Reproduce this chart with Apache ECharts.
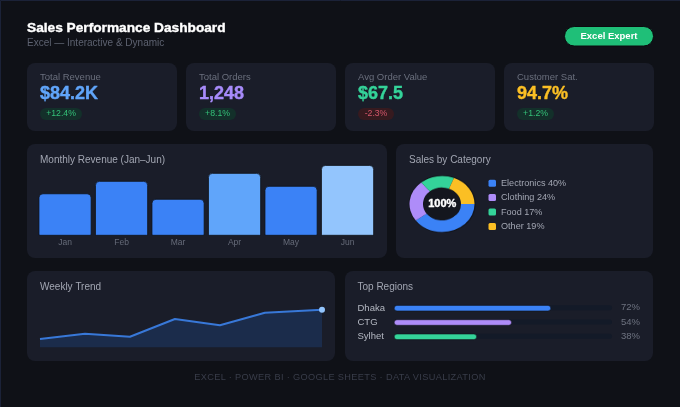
<!DOCTYPE html>
<html>
<head>
<meta charset="utf-8">
<title>Sales Performance Dashboard</title>
<script src="https://cdn.jsdelivr.net/npm/echarts@6/dist/echarts.min.js"></script>
<style>
  html, body { margin: 0; padding: 0; background: #0f1117; }
  #wrap { position: relative; width: 680px; height: 407px; overflow: hidden; }
  #main { position: absolute; left: 0; top: 0; width: 680px; height: 407px; }
  /* the ring in the reference is flattened, a pie can't do that by itself */
  #donut { position: absolute; left: 407.3px; top: 169px; width: 70px; height: 70px; transform: scaleY(0.862); }
  #foot { position: absolute; left: 0; width: 680px; top: 371px; text-align: center; font: 9.2px/12px "Liberation Sans"; letter-spacing: 0.35px; color: #393d4a; }
</style>
</head>
<body>
<div id="wrap">
  <div id="main"></div>
  <div id="donut"></div>
  <div id="foot">EXCEL · POWER BI · GOOGLE SHEETS · DATA VISUALIZATION</div>
</div>
<script>
var FONT = '"Liberation Sans", Arial, sans-serif';

// monthly revenue
var months = ['Jan', 'Feb', 'Mar', 'Apr', 'May', 'Jun'];
var monthlyRevenue = [42.5, 55, 37, 63, 50, 71];
var monthlyColors = ['#3b82f6', '#3b82f6', '#3b82f6', '#60a5fa', '#3b82f6', '#93c5fd'];

// sales by category
var categories = ['Electronics', 'Clothing', 'Food', 'Other'];
var categoryShare = [40, 24, 17, 19];
var categoryColors = ['#3b82f6', '#ae8cf9', '#34d399', '#fbbf24'];

// weekly trend
var weeks = [1, 2, 3, 4, 5, 6, 7.27];
var weeklyValues = [8.3, 13.6, 10.6, 28.3, 22, 34.6, 37.6];

// top regions
var regions = ['Dhaka', 'CTG', 'Sylhet'];
var regionShare = [72, 54, 38];
var regionColors = ['#3b82f6', '#ae8cf9', '#34d399'];
var regionTrack = [100, 100, 100];

// kpi cards
var kpiLabels = ['Total Revenue', 'Total Orders', 'Avg Order Value', 'Customer Sat.'];
var kpiValues = ['$84.2K', '1,248', '$67.5', '94.7%'];
var kpiDeltas = ['+12.4%', '+8.1%', '-2.3%', '+1.2%'];

var kpiColors = ['#60a5fa', '#a78bfa', '#34d399', '#fbbf24'];
var kpiLeft = [27, 186, 345, 504];
var kpiBadgeW = [42, 37, 36, 37];

function panel(x, y, w, h) {
  return { type: 'rect', shape: { x: x, y: y, width: w, height: h, r: 8 }, style: { fill: '#1a1d29' } };
}
function label(x, y, text, fill, font, align, heavy) {
  var style = { x: x, y: y, text: text, fill: fill, font: font + ' ' + FONT, textAlign: align || 'left', textVerticalAlign: 'middle' };
  // headline text in the reference is heavier, with a dark edge
  if (heavy) { style.stroke = fill; style.lineWidth = 0.4; style.shadowColor = '#07080b'; style.shadowBlur = 2; }
  return { type: 'text', z: 5, style: style };
}

var shapes = [
  { type: 'rect', shape: { x: 0.5, y: 0.5, width: 680, height: 407 }, style: { fill: '#0f1117', stroke: '#1b2238', lineWidth: 1 } },
  label(27, 28, 'Sales Performance Dashboard', '#ffffff', 'bold 13.7px', 'left', true),
  label(27, 43.5, 'Excel — Interactive & Dynamic', '#5d6270', '10px'),
  { type: 'rect', shape: { x: 564.5, y: 26.5, width: 89, height: 19.5, r: 9.7 }, style: { fill: '#1fbf78', stroke: '#0a0b0f', lineWidth: 1 } },
  label(609, 36, 'Excel Expert', '#ffffff', 'bold 9.5px', 'center'),
  panel(27, 144, 360, 114),
  panel(396, 144, 257, 114),
  panel(27, 271, 308, 90),
  panel(345, 271, 308, 90),
  label(40, 160, 'Monthly Revenue (Jan–Jun)', '#a2a6b2', '10px'),
  label(409, 160, 'Sales by Category', '#a2a6b2', '10px'),
  label(40, 287, 'Weekly Trend', '#a2a6b2', '10px'),
  label(357.5, 287, 'Top Regions', '#a2a6b2', '10px'),
  { type: 'ellipse', shape: { cx: 442.3, cy: 204, rx: 33.5, ry: 29 }, style: { fill: '#14161e' } },
  label(442.3, 204, '100%', '#ffffff', 'bold 11px', 'center', true)
];

kpiLabels.forEach(function (name, i) {
  var x = kpiLeft[i];
  var down = kpiDeltas[i].charAt(0) === '-';
  shapes.push(panel(x, 63, 150, 68));
  shapes.push(label(x + 13, 77, name, '#6a6f7d', '9.5px'));
  shapes.push(label(x + 13, 94.5, kpiValues[i], kpiColors[i], 'bold 18px', 'left', true));
  shapes.push({ type: 'rect', shape: { x: x + 13, y: 108, width: kpiBadgeW[i], height: 12, r: 6 }, style: { fill: down ? '#361a1f' : '#13302a' } });
  shapes.push(label(x + 13 + kpiBadgeW[i] / 2, 114, kpiDeltas[i], down ? '#d4566a' : '#34c078', '8.7px', 'center'));
});

categories.forEach(function (name, i) {
  var y = 183.2 + i * 14.4;
  shapes.push({ type: 'rect', shape: { x: 488.5, y: y - 3.5, width: 7.5, height: 7, r: 1.5 }, style: { fill: categoryColors[i] } });
  shapes.push(label(501, y, name + ' ' + categoryShare[i] + '%', '#a2a6b2', '9.1px'));
});

var chart = echarts.init(document.getElementById('main'));
chart.setOption({
  animation: false,
  graphic: { elements: shapes },
  grid: [
    { left: 36.8, top: 165, width: 339, height: 70.7 },
    { left: 40, top: 309.3, width: 282, height: 38 },
    { left: 394, top: 301, width: 218, height: 43 }
  ],
  xAxis: [
    {
      gridIndex: 0, type: 'category', data: months,
      axisLine: { show: false }, axisTick: { show: false },
      axisLabel: { color: '#666b79', fontFamily: FONT, fontSize: 8.5, margin: 2 }
    },
    { gridIndex: 1, type: 'value', min: 1, max: 7.27, show: false },
    { gridIndex: 2, type: 'value', min: 0, max: 100, show: false }
  ],
  yAxis: [
    { gridIndex: 0, type: 'value', min: 0, max: 71, show: false },
    { gridIndex: 1, type: 'value', min: 0, max: 38, show: false },
    {
      gridIndex: 2, type: 'category', inverse: true, data: regions,
      axisLine: { show: false }, axisTick: { show: false },
      axisLabel: { color: '#b4b8c2', fontFamily: FONT, fontSize: 9.5, align: 'left', margin: 36.5 }
    }
  ],
  series: [
    {
      type: 'bar', xAxisIndex: 0, yAxisIndex: 0, barWidth: 53,
      data: monthlyRevenue.map(function (v, i) {
        return { value: v, itemStyle: { color: monthlyColors[i] } };
      }),
      itemStyle: { borderRadius: [4, 4, 1, 1], borderColor: '#0f1117', borderWidth: 0.8 }
    },
    {
      type: 'line', xAxisIndex: 1, yAxisIndex: 1,
      data: weeks.map(function (w, i) { return [w, weeklyValues[i]]; }),
      clip: false,
      symbol: 'circle',
      symbolSize: function (v, p) { return p.dataIndex === weeks.length - 1 ? 6 : 0; },
      lineStyle: { color: '#3878d8', width: 2 },
      itemStyle: { color: '#93c5fd' },
      areaStyle: { color: '#1b2c4b', opacity: 1 }
    },
    {
      type: 'bar', xAxisIndex: 2, yAxisIndex: 2, barWidth: 5, barGap: '-100%', silent: true,
      data: regionTrack,
      itemStyle: { color: '#131a28', borderRadius: 2.5 },
      label: {
        show: true, position: 'right', distance: 9, color: '#6e7380', fontFamily: FONT, fontSize: 9.5,
        formatter: function (p) { return regionShare[p.dataIndex] + '%'; }
      }
    },
    {
      type: 'bar', xAxisIndex: 2, yAxisIndex: 2, barWidth: 6, barGap: '-100%',
      data: regionShare.map(function (v, i) {
        return { value: v, itemStyle: { color: regionColors[i] } };
      }),
      itemStyle: { borderRadius: 3, borderColor: '#0f1117', borderWidth: 0.5 }
    }
  ]
});

var donut = echarts.init(document.getElementById('donut'));
donut.setOption({
  animation: false,
  series: [{
    type: 'pie', startAngle: 0, clockwise: true,
    radius: [19, 32.5], center: ['50%', '50%'],
    label: { show: false }, labelLine: { show: false }, silent: true,
    data: categories.map(function (c, i) {
      return { name: c, value: categoryShare[i], itemStyle: { color: categoryColors[i] } };
    })
  }]
});
</script>
</body>
</html>
